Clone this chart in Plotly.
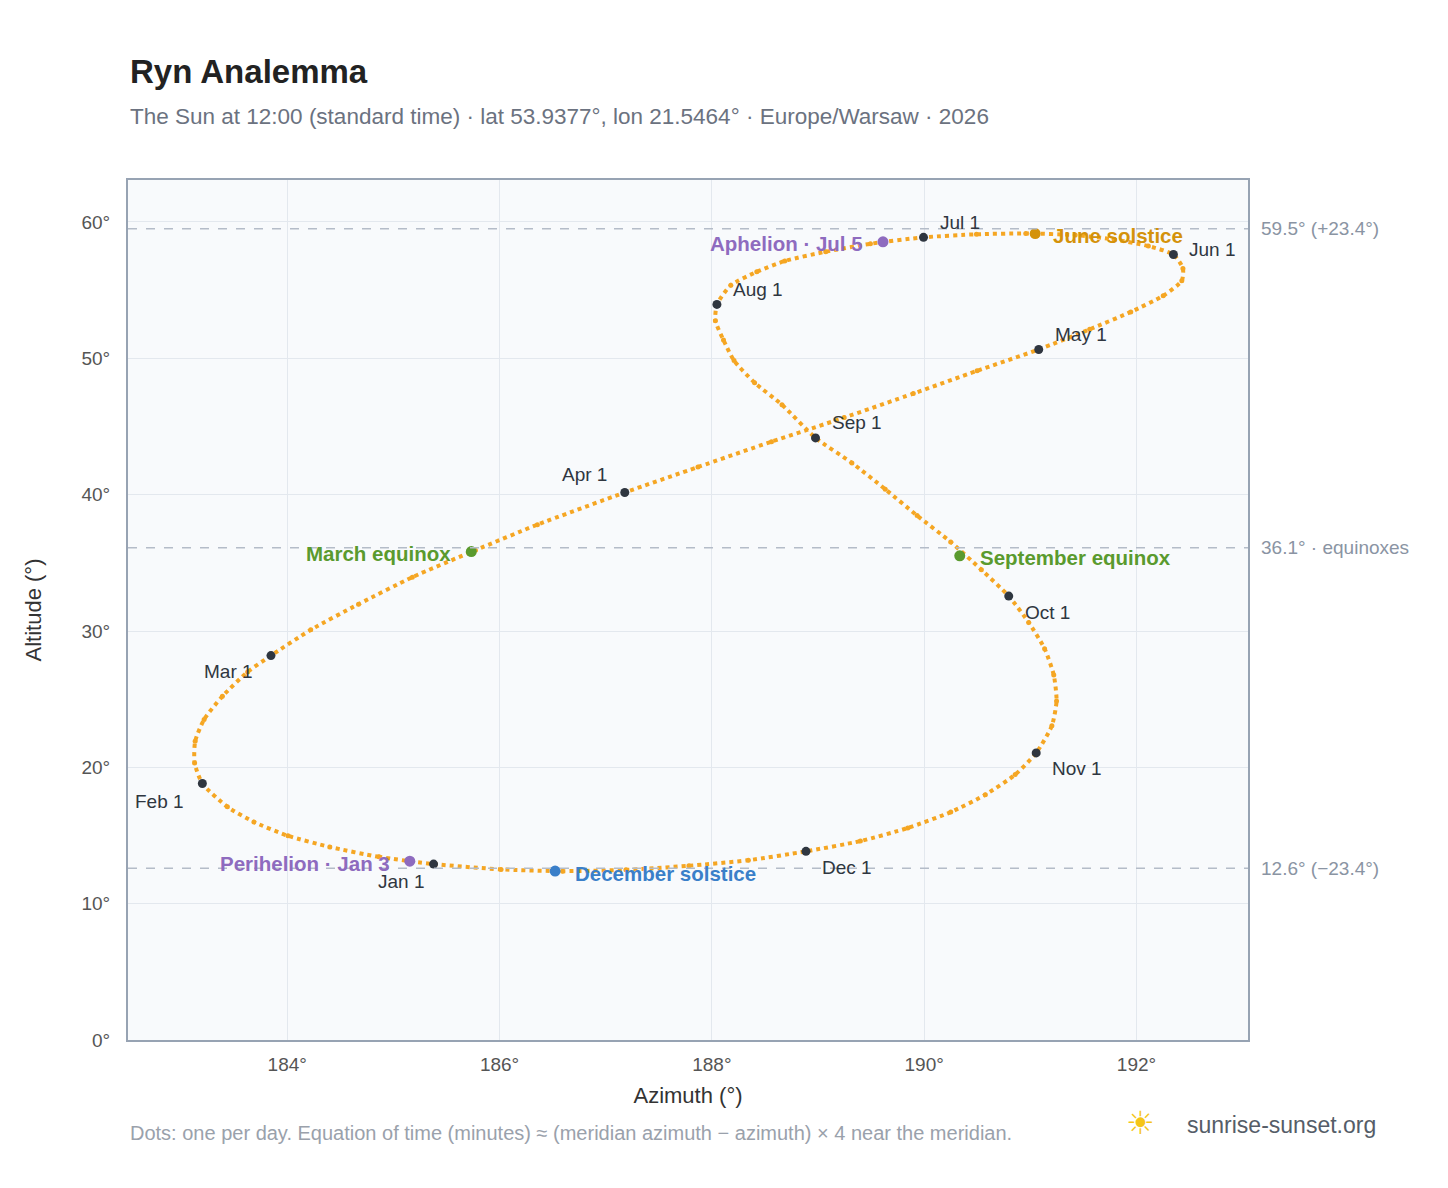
import math
import plotly.graph_objects as go

LAT = 53.9377
LON = 21.5464
# almanac table: days 1,6,11,16,21,26 of each month; declination (deg), equation of time (min)
MONTHS = ["Jan","Feb","Mar","Apr","May","Jun","Jul","Aug","Sep","Oct","Nov","Dec"]
DAYS = [1, 6, 11, 16, 21, 26]
DEC = [-23.0,-22.5,-21.8,-21.0,-20.0,-18.9,
       -17.2,-15.7,-14.1,-12.5,-10.8,-9.0,
       -7.8,-5.9,-4.0,-2.0,0.0,1.9,
       4.3,6.2,8.1,9.9,11.7,13.4,
       15.0,16.5,17.8,19.0,20.1,21.0,
       22.0,22.6,23.05,23.35,23.44,23.35,
       23.1,22.6,22.0,21.3,20.5,19.5,
       18.1,16.9,15.5,14.0,12.4,10.8,
       8.4,6.6,4.7,2.8,0.9,-1.1,
       -3.0,-4.9,-6.8,-8.7,-10.6,-12.4,
       -14.4,-16.0,-17.5,-18.8,-20.0,-21.0,
       -21.8,-22.5,-22.95,-23.3,-23.44,-23.35]
EOT = [-3.4,-5.7,-7.8,-9.6,-11.1,-12.3,
       -13.5,-14.0,-14.2,-14.1,-13.7,-13.1,
       -12.5,-11.5,-10.3,-9.0,-7.5,-6.1,
       -4.2,-2.7,-1.3,0.0,1.1,2.0,
       2.8,3.3,3.6,3.7,3.5,3.0,
       2.2,1.3,0.3,-0.7,-1.8,-2.8,
       -3.8,-4.7,-5.4,-6.0,-6.3,-6.5,
       -6.3,-5.9,-5.2,-4.4,-3.3,-2.0,
       -0.2,1.5,3.2,4.9,6.7,8.5,
       10.2,11.7,13.1,14.3,15.3,16.0,
       16.4,16.4,16.0,15.3,14.2,12.8,
       11.0,9.0,6.8,4.4,1.9,-0.6]
EV_NAMES = ["June solstice","December solstice","March equinox","September equinox","Perihelion · Jan 3","Aphelion · Jul 5"]
EV_DEC = [23.44,-23.44,-0.1,-0.1,-22.8,22.75]
EV_EOT = [-1.6,1.6,-7.6,7.4,-4.4,-4.5]
EV_COL = ["#d4920a","#3a7fc9","#5a9a2e","#5a9a2e","#8e6bbf","#8e6bbf"]

def sunpos(dec, eot):
    tst = 12*60 - 60 + 4*LON + eot
    ha = math.radians(tst/4 - 180)
    la = math.radians(LAT); d = math.radians(dec)
    alt = math.asin(math.sin(la)*math.sin(d) + math.cos(la)*math.cos(d)*math.cos(ha))
    az = math.atan2(math.sin(ha), math.cos(ha)*math.sin(la) - math.tan(d)*math.cos(la))
    return math.degrees(az)+180, math.degrees(alt)

pts = [sunpos(d, e) for d, e in zip(DEC, EOT)]
AZ = [p[0] for p in pts]; AL = [p[1] for p in pts]

fig = go.Figure()
fig.add_trace(go.Scatter(x=AZ+[AZ[0]], y=AL+[AL[0]], mode="lines", line=dict(color="#f5a623", width=4, dash="dot", shape="spline", smoothing=0.6), hoverinfo="skip"))
fig.add_trace(go.Scatter(x=AZ, y=AL, mode="markers", marker=dict(color="#f5a623", size=5)))
mx = AZ[::6]; my = AL[::6]
fig.add_trace(go.Scatter(x=mx, y=my, mode="markers", marker=dict(color="#2f3640", size=9)))
OFF = [(-8,-17,"right"),(-16,-18,"right"),(-16,-16,"right"),(-16,18,"right"),(14,15,"left"),(14,5,"left"),
       (14,15,"left"),(14,15,"left"),(14,15,"left"),(14,-16,"left"),(14,-16,"left"),(14,-16,"left")]
for i,(m,o) in enumerate(zip(MONTHS,OFF)):
    fig.add_annotation(x=mx[i], y=my[i], text=m+" 1", showarrow=False, xshift=o[0], yshift=o[1],
                       xanchor=o[2], font=dict(size=19, color="#2f3640"))
EV_OFF = [(16,"left"),(18,"left"),(-18,"right"),(18,"left"),(-18,"right"),(-18,"right")]
for n,d,e,c,o in zip(EV_NAMES,EV_DEC,EV_EOT,EV_COL,EV_OFF):
    x,y = sunpos(d,e)
    fig.add_trace(go.Scatter(x=[x], y=[y], mode="markers", marker=dict(color=c, size=11)))
    fig.add_annotation(x=x, y=y, text="<b>"+n+"</b>", showarrow=False, xshift=o[0], yshift=-2, xanchor=o[1],
                       font=dict(size=20.5, color=c))
REF_Y = [59.5, 36.1, 12.6]
REF_T = ["59.5° (+23.4°)","36.1° · equinoxes","12.6° (−23.4°)"]
for y,t in zip(REF_Y, REF_T):
    fig.add_shape(type="line", xref="paper", x0=0, x1=1, y0=y, y1=y, line=dict(color="#b4bcc8", width=1.5, dash="dash"))
    fig.add_annotation(xref="paper", x=1.01, y=y, text=t, showarrow=False, xanchor="left", font=dict(size=19, color="#8a94a3"))
fig.add_annotation(xref="paper", yref="paper", x=0, y=1.1256, xanchor="left", yanchor="middle", text="<b>Ryn Analemma</b>", showarrow=False, font=dict(size=33, color="#222"))
fig.add_annotation(xref="paper", yref="paper", x=0, y=1.074, xanchor="left", yanchor="middle", text="The Sun at 12:00 (standard time) · lat 53.9377°, lon 21.5464° · Europe/Warsaw · 2026", showarrow=False, font=dict(size=22.5, color="#6b7280"))
fig.add_annotation(xref="paper", yref="paper", x=0, y=-0.108, xanchor="left", yanchor="middle", text="Dots: one per day. Equation of time (minutes) ≈ (meridian azimuth − azimuth) × 4 near the meridian.", showarrow=False, font=dict(size=20, color="#9aa1ab"))
fig.add_annotation(xref="paper", yref="paper", x=1.116, y=-0.099, xanchor="right", yanchor="middle", text="sunrise-sunset.org", showarrow=False, font=dict(size=23, color="#555d68"))
fig.add_annotation(xref="paper", yref="paper", x=0.9185, y=-0.096, yanchor="middle", text="☀", showarrow=False, font=dict(size=32, color="#f5c518"))
fig.update_layout(width=1448, height=1188, margin=dict(l=120, r=208, t=172, b=156, autoexpand=False),
                  paper_bgcolor="white", plot_bgcolor="#f8fafc", showlegend=False,
                  font=dict(family="Liberation Sans, Arial", size=19, color="#555"))
fig.update_xaxes(range=[182.5, 193.05], dtick=2, tick0=184, ticksuffix="°", gridcolor="#e3e8ee", zeroline=False,
                 showline=True, linecolor="#97a3b3", linewidth=2, mirror=True, ticks="outside", ticklen=6, tickcolor="#fff",
                 title=dict(text="Azimuth (°)", font=dict(size=22, color="#333"), standoff=14), tickfont=dict(size=19, color="#555"))
fig.update_yaxes(range=[0, 63.08], dtick=10, ticksuffix="°", gridcolor="#e3e8ee", zeroline=False,
                 showline=True, linecolor="#97a3b3", linewidth=2, mirror=True, ticks="outside", ticklen=12, tickcolor="#fff",
                 title=dict(text="Altitude (°)", font=dict(size=22, color="#333"), standoff=34), tickfont=dict(size=19, color="#555"))
fig.write_html("out.html")
